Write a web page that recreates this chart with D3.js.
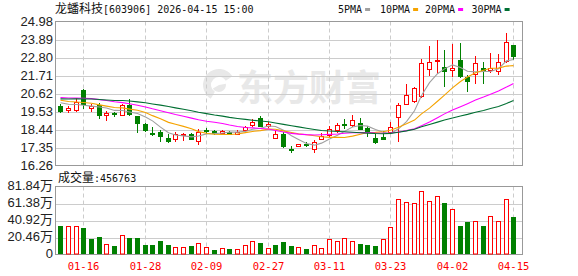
<!DOCTYPE html>
<html>
<head>
<meta charset="utf-8">
<script src="https://cdn.jsdelivr.net/npm/d3@7"></script>
<style>
  body { margin: 0; background: #fff; }
  svg { display: block; }
</style>
</head>
<body>
<svg id="chart" width="578" height="276"></svg>
<script>
// daily bars, 2026-01-13 .. 2026-04-15
const dates = ["01-13","01-14","01-15","01-16","01-19","01-20","01-21","01-22","01-23","01-26",
  "01-27","01-28","01-29","01-30","02-02","02-03","02-04","02-05","02-06","02-09",
  "02-10","02-11","02-12","02-13","02-24","02-25","02-26","02-27","03-02","03-03",
  "03-04","03-05","03-06","03-09","03-10","03-11","03-12","03-13","03-16","03-17",
  "03-18","03-19","03-20","03-23","03-24","03-25","03-26","03-27","03-30","03-31",
  "04-01","04-02","04-03","04-07","04-08","04-09","04-10","04-13","04-14","04-15"];
const opens = [19.85,19.61,19.61,20.86,19.73,19.95,19.29,19.41,19.31,19.95,
  19.25,18.80,18.22,18.28,17.94,17.88,18.14,18.18,17.77,18.42,
  18.34,18.22,18.26,18.18,18.40,18.70,19.15,18.64,17.94,18.14,
  17.25,17.47,17.59,17.27,17.88,18.10,18.44,18.76,18.74,18.85,
  18.54,17.94,17.98,18.28,19.21,20.00,20.15,20.46,22.12,22.60,
  22.24,22.03,22.62,21.63,21.83,22.16,22.07,21.97,22.58,23.55];
const highs = [20.00,19.85,20.36,20.90,19.98,20.02,19.55,19.51,20.00,20.26,
  19.27,18.84,18.58,18.44,18.14,18.28,18.20,18.20,18.48,18.56,
  18.44,18.42,18.36,18.38,18.68,19.09,19.25,18.90,18.34,18.26,
  17.43,17.59,17.70,17.79,18.24,18.68,18.85,19.09,19.29,19.11,
  18.64,18.14,18.34,18.88,20.06,21.17,21.00,22.68,23.49,23.88,
  23.25,23.61,23.65,21.77,22.88,22.52,23.08,23.02,24.30,23.55];
const lows = [19.49,19.49,19.58,19.75,19.59,19.15,19.00,19.25,19.29,19.29,
  18.28,18.34,18.08,17.73,17.70,17.73,17.83,17.86,17.57,18.24,
  18.16,18.16,18.14,18.14,18.34,18.64,18.64,18.62,17.92,17.41,
  17.07,17.45,17.45,17.09,17.86,18.04,18.30,18.54,18.64,18.48,
  18.04,17.63,17.86,18.24,17.73,19.98,20.10,20.42,21.77,21.87,
  21.06,21.67,21.61,20.76,21.23,21.23,21.91,21.83,22.52,22.70];
const closes = [19.59,19.75,20.09,20.00,19.85,19.31,19.45,19.37,19.95,19.40,
  18.85,18.44,18.18,18.04,17.73,18.14,18.18,17.89,18.28,18.38,
  18.22,18.36,18.16,18.30,18.58,18.88,18.68,18.80,18.18,17.43,
  17.22,17.57,17.55,17.69,18.04,18.48,18.70,18.72,19.00,18.50,
  18.30,17.70,17.88,18.58,19.95,20.50,20.97,22.48,22.50,22.64,
  21.97,22.18,21.67,21.36,22.48,22.05,22.18,22.52,23.75,22.90];
// volume, in 万 (10k)
const volumes = [33.7,33.7,33.7,31.3,18.1,20.5,13.2,10.8,23.7,19.3,
  19.3,12.0,12.0,16.8,12.0,9.2,9.2,10.8,14.0,9.2,
  6.0,8.0,7.2,6.8,11.6,16.8,14.4,8.0,12.0,15.6,
  10.8,9.2,7.2,11.6,8.0,18.9,16.8,20.1,16.8,13.2,
  12.0,10.8,18.9,33.3,67.0,63.4,62.2,76.6,64.6,71.0,
  61.4,55.0,34.9,39.7,40.6,33.7,46.6,40.6,67.0,45.6763];
// closes of the 29 sessions before the window, only used to seed the averages
const priorCloses = [19.85,20.02,20.18,19.96,20.10,20.31,20.25,20.06,20.40,20.33,
  20.15,20.28,20.12,20.36,20.45,20.62,20.85,20.96,20.74,20.71,
  20.52,20.40,20.31,20.28,20.30,20.22,20.15,20.24,20.11];

const priceTicks = [16.26,17.35,18.44,19.53,20.62,21.71,22.80,23.89,24.98];
const volumeTicks = [0,20.46,40.92,61.38,81.84];
const dateTicks = ["01-16","01-28","02-09","02-27","03-11","03-23","04-02","04-15"];
const maPeriods = [5,10,20,30];
const maNames = ["5PMA","10PMA","20PMA","30PMA"];

const maColors = ["#a0a0a0","#f5a300","#ff00ff","#006f32"];
const upColor = "#ff0000", downColor = "#008000";

const left = 55, right = 522,
    priceTop = 21.5, priceBottom = 165.5,
    volTop = 186.5, volBottom = 254.5;

const svg = d3.select("#chart");

const x = d3.scaleBand().domain(dates).range([56.4, 517.2]).paddingInner(0).paddingOuter(0);
const cx = d => Math.round(x(d) + x.bandwidth() / 2);
const y = d3.scaleLinear().domain([16.26, 24.98]).range([priceBottom, priceTop]);
const yv = d3.scaleLinear().domain([0, 81.84]).range([volBottom, volTop]);

// moving averages over prior + visible closes
const allCloses = priorCloses.concat(closes);
const offset = priorCloses.length;
const mas = maPeriods.map(n => closes.map((c, i) =>
    d3.mean(allCloses.slice(offset + i - n + 1, offset + i + 1))));

// watermark
const wm = svg.append("g").attr("fill", "#e8e8e8");
wm.append("path")
    .attr("transform", "translate(219,85)")
    .attr("d", d3.arc().innerRadius(8).outerRadius(16).startAngle(-2.6).endAngle(1.0)());
wm.append("path")
    .attr("transform", "translate(219,85)")
    .attr("d", d3.arc().innerRadius(0).outerRadius(7).startAngle(1.4).endAngle(4.2)());
wm.append("text")
    .attr("x", 237).attr("y", 101)
    .style("font-family", "'Noto Sans CJK SC'")
    .style("font-size", "36px").style("font-weight", "bold")
    .text("东方财富");

// grids
function panel(yScale, ticks, top, bottom) {
  svg.append("g").selectAll("line").data(ticks.slice(1, -1)).join("line")
      .attr("x1", left).attr("x2", right)
      .attr("y1", d => Math.round(yScale(d)) + 0.5).attr("y2", d => Math.round(yScale(d)) + 0.5)
      .attr("stroke", "#cccccc");
  svg.append("g").selectAll("line").data(dateTicks).join("line")
      .attr("x1", d => cx(d) + 0.5).attr("x2", d => cx(d) + 0.5)
      .attr("y1", top).attr("y2", bottom)
      .attr("stroke", "#cccccc").attr("stroke-dasharray", "4,3");
  svg.append("rect")
      .attr("x", left + 0.5).attr("y", top)
      .attr("width", right - left).attr("height", bottom - top)
      .attr("fill", "none").attr("stroke", "#999999");
}
panel(y, priceTicks, priceTop, priceBottom);
panel(yv, volumeTicks, volTop, volBottom);

// axis labels
svg.append("g").selectAll("text").data(priceTicks).join("text")
    .attr("x", 53).attr("y", d => y(d) + 4.5)
    .attr("text-anchor", "end")
    .style("font-family", "'Liberation Sans', Arial").style("font-size", "13px")
    .attr("fill", "#222")
    .text(d => d.toFixed(2));
svg.append("g").selectAll("text").data(volumeTicks).join("text")
    .attr("x", 53).attr("y", d => yv(d) + 3.5)
    .attr("text-anchor", "end")
    .style("font-family", "'Liberation Sans', Arial, 'Noto Sans CJK SC'").style("font-size", "13px")
    .attr("fill", "#222")
    .text(d => d === 0 ? "0" : d.toFixed(2) + "万");
svg.append("g").selectAll("text").data(dateTicks).join("text")
    .attr("x", d => cx(d) + 0.5).attr("y", 270)
    .attr("text-anchor", "middle")
    .style("font-family", "'DejaVu Sans Mono', monospace").style("font-size", "10.5px")
    .attr("fill", "#ff0000")
    .text(d => d);

// candles
const candles = svg.append("g").selectAll("g").data(dates).join("g");
candles.append("line")
    .attr("x1", d => cx(d) + 0.5).attr("x2", d => cx(d) + 0.5)
    .attr("y1", (d, i) => Math.round(y(highs[i]))).attr("y2", (d, i) => Math.round(y(lows[i])) + 1)
    .attr("stroke", (d, i) => closes[i] > opens[i] ? upColor : downColor);
candles.append("rect")
    .each(function(d, i) {
      const isUp = closes[i] > opens[i];
      const t = Math.round(y(Math.max(opens[i], closes[i]))),
          b = Math.max(Math.round(y(Math.min(opens[i], closes[i]))), t + 1);
      const r = d3.select(this);
      if (isUp) {
        r.attr("x", cx(d) - 1.5).attr("y", t + 0.5).attr("width", 4).attr("height", b - t)
         .attr("fill", "#fff").attr("stroke", upColor);
      } else {
        r.attr("x", cx(d) - 2).attr("y", t).attr("width", 5).attr("height", b - t + 1)
         .attr("fill", downColor);
      }
    });

// volume bars, coloured by change against previous close
svg.append("g").selectAll("rect").data(dates).join("rect")
    .each(function(d, i) {
      const ref = i === 0 ? opens[0] : closes[i - 1];
      const t = Math.round(yv(volumes[i]));
      const r = d3.select(this);
      if (closes[i] >= ref) {
        r.attr("x", cx(d) - 1.5).attr("y", t + 0.5).attr("width", 4).attr("height", volBottom - 0.5 - t - 0.5)
         .attr("fill", "#fff").attr("stroke", upColor);
      } else {
        r.attr("x", cx(d) - 2).attr("y", t).attr("width", 5).attr("height", volBottom - 0.5 - t)
         .attr("fill", downColor);
      }
    });

// moving average lines
const line = d3.line().x((d, i) => cx(dates[i]) + 0.5).y(d => y(d));
svg.append("g").selectAll("path").data(mas).join("path")
    .attr("d", line)
    .attr("fill", "none")
    .attr("stroke", (d, k) => maColors[k])
    .attr("stroke-width", 1.1);

// title
const title = svg.append("text").attr("x", 55).attr("y", 13).attr("fill", "#111");
title.append("tspan")
    .style("font-family", "'Noto Sans CJK SC'").style("font-size", "12px")
    .text("龙蟠科技");
title.append("tspan")
    .style("font-family", "'DejaVu Sans Mono', monospace").style("font-size", "10px")
    .text("[603906] 2026-04-15 15:00");

// legend
const legendX = [338, 380, 425, 471.5];
const legend = svg.append("g").selectAll("g").data(maNames).join("g")
    .attr("transform", (d, k) => "translate(" + legendX[k] + ",0)");
legend.append("text")
    .attr("y", 12.5)
    .style("font-family", "'DejaVu Sans Mono', monospace").style("font-size", "10px")
    .attr("fill", "#111")
    .text(d => d);
legend.append("rect")
    .attr("x", d => d.length * 6.02 + 3).attr("y", 8)
    .attr("width", 5).attr("height", 3)
    .attr("fill", (d, k) => maColors[k]);

// volume caption
const cap = svg.append("text").attr("x", 58).attr("y", 182).attr("fill", "#111");
cap.append("tspan")
    .style("font-family", "'Noto Sans CJK SC'").style("font-size", "12px")
    .text("成交量");
cap.append("tspan")
    .style("font-family", "'DejaVu Sans Mono', monospace").style("font-size", "10px")
    .text(":456763");
</script>
</body>
</html>
